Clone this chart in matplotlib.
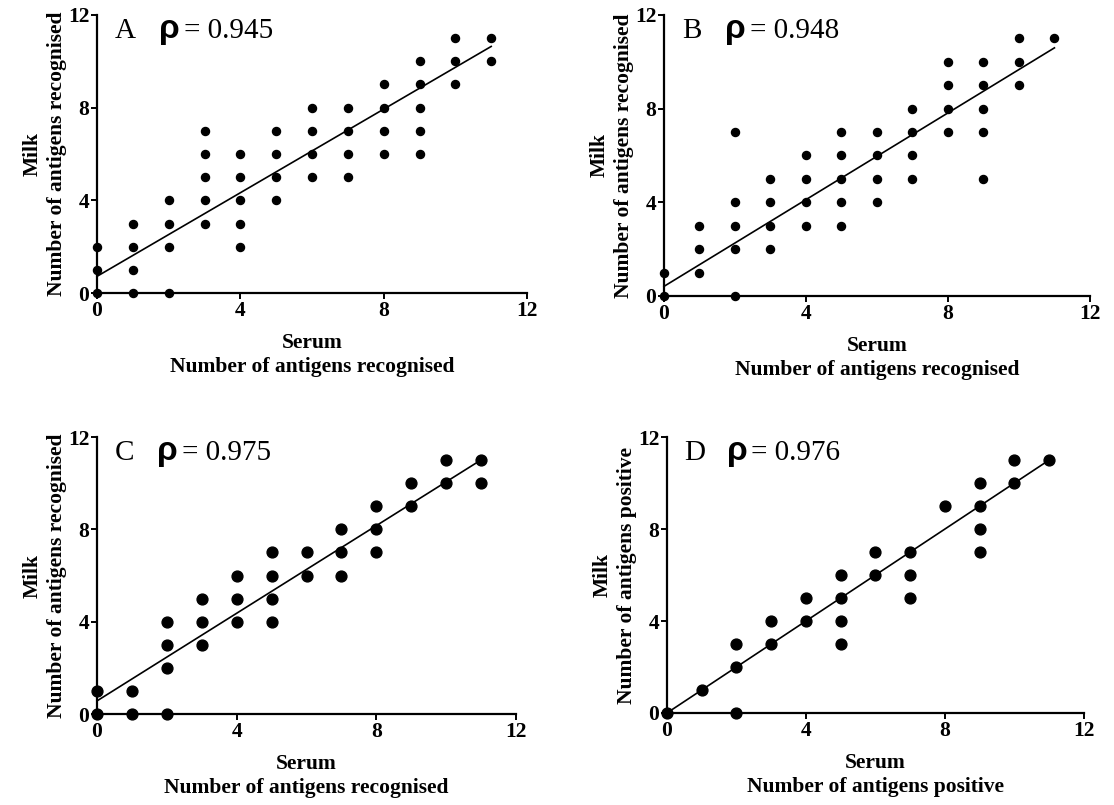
"""Milk vs serum antigen recognition, four scatter panels with fit lines."""
import matplotlib
matplotlib.use("Agg")
import matplotlib.pyplot as plt
import numpy as np

SERIF = "Liberation Serif"

# Panel A
a_x = [0, 0, 0, 1, 1, 1, 1, 2, 2, 2, 2, 3, 3, 3, 3, 3, 4, 4, 4, 4, 4,
       5, 5, 5, 5, 6, 6, 6, 6, 7, 7, 7, 7, 8, 8, 8, 8, 9, 9, 9, 9, 9,
       10, 10, 10, 11, 11]
a_y = [0, 1, 2, 0, 1, 2, 3, 0, 2, 3, 4, 3, 4, 5, 6, 7, 2, 3, 4, 5, 6,
       4, 5, 6, 7, 5, 6, 7, 8, 5, 6, 7, 8, 6, 7, 8, 9, 6, 7, 8, 9, 10,
       9, 10, 11, 10, 11]

# Panel B
b_x = [0, 0, 1, 1, 1, 2, 2, 2, 2, 2, 3, 3, 3, 3, 4, 4, 4, 4,
       5, 5, 5, 5, 5, 6, 6, 6, 6, 7, 7, 7, 7, 8, 8, 8, 8,
       9, 9, 9, 9, 9, 10, 10, 10, 11]
b_y = [0, 1, 1, 2, 3, 0, 2, 3, 4, 7, 2, 3, 4, 5, 3, 4, 5, 6,
       3, 4, 5, 6, 7, 4, 5, 6, 7, 5, 6, 7, 8, 7, 8, 9, 10,
       5, 7, 8, 9, 10, 9, 10, 11, 11]

# Panel C
c_x = [0, 0, 1, 1, 2, 2, 2, 2, 3, 3, 3, 4, 4, 4, 5, 5, 5, 5,
       6, 6, 7, 7, 7, 8, 8, 8, 9, 9, 10, 10, 11, 11]
c_y = [0, 1, 0, 1, 0, 2, 3, 4, 3, 4, 5, 4, 5, 6, 4, 5, 6, 7,
       6, 7, 6, 7, 8, 7, 8, 9, 9, 10, 10, 11, 10, 11]

# Panel D
d_x = [0, 1, 2, 2, 2, 3, 3, 4, 4, 5, 5, 5, 5, 6, 6, 7, 7, 7,
       8, 9, 9, 9, 9, 10, 10, 11]
d_y = [0, 1, 0, 2, 3, 3, 4, 4, 5, 3, 4, 5, 6, 6, 7, 5, 6, 7,
       9, 7, 8, 9, 10, 10, 11, 11]

# fitted lines as printed (points overlap, so they can't be refit from the dots)
fit_intercept = [0.72, 0.41, 0.57, 0.0]
fit_slope = [0.902, 0.926, 0.949, 1.0]

letters = ["A", "B", "C", "D"]
rhos = ["0.945", "0.948", "0.975", "0.976"]
axis_names = ["Number of antigens recognised", "Number of antigens recognised",
              "Number of antigens recognised", "Number of antigens positive"]
ticks = [0, 4, 8, 12]

panels = [(a_x, a_y), (b_x, b_y), (c_x, c_y), (d_x, d_y)]
rects = [
    [0.0871, 0.636, 0.386, 0.3454],
    [0.596, 0.6323, 0.3824, 0.3491],
    [0.0871, 0.113, 0.3761, 0.3441],
    [0.5987, 0.1143, 0.3743, 0.3428],
]
msizes = [5.8, 5.8, 7.8, 7.8]

fig = plt.figure(figsize=(11.14, 8.05), dpi=100)
fig.patch.set_facecolor("white")

for i, ((xs, ys), rect) in enumerate(zip(panels, rects)):
    ax = fig.add_axes(rect)
    xs = np.array(xs)
    ys = np.array(ys)
    ax.plot(xs, ys, "o", color="black", ms=msizes[i], clip_on=False, zorder=3)

    fx = np.array([0, xs.max()])
    ax.plot(fx, fit_intercept[i] + fit_slope[i] * fx, color="black", lw=1.2,
            clip_on=False)

    ax.set_xlim(0, 12)
    ax.set_ylim(0, 12)
    ax.set_xticks(ticks)
    ax.set_yticks(ticks)
    for s in ["top", "right"]:
        ax.spines[s].set_visible(False)
    for s in ["left", "bottom"]:
        ax.spines[s].set_linewidth(1.6)
    ax.tick_params(direction="out", length=4, width=1.4, pad=1.5)
    for lab in ax.get_xticklabels() + ax.get_yticklabels():
        lab.set_fontfamily(SERIF)
        lab.set_fontweight("bold")
        lab.set_fontsize(15.5)

    ax.set_xlabel("Serum\n" + axis_names[i], family=SERIF, fontweight="bold",
                  fontsize=15.5, linespacing=1.25, labelpad=9)
    ax.set_ylabel("Milk\n" + axis_names[i], family=SERIF, fontweight="bold",
                  fontsize=15.5, linespacing=1.25, labelpad=1)

    ax.text(0.5, 11.0, letters[i], family=SERIF, fontsize=21)
    ax.text(1.72, 11.0, "\u03c1", family="Liberation Sans", fontweight="bold",
            fontsize=24)
    ax.text(2.42, 11.0, "= " + rhos[i], family=SERIF, fontsize=21)

fig.savefig("out.png", dpi=100, facecolor="white")
plt.close(fig)
